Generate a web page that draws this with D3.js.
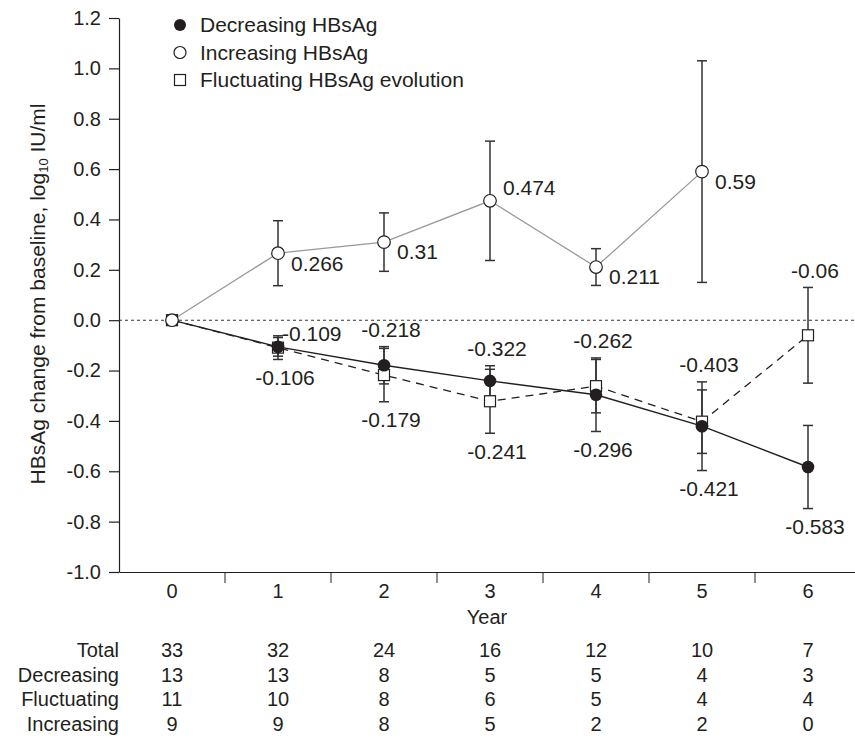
<!DOCTYPE html>
<html>
<head>
<meta charset="utf-8">
<script src="https://cdn.jsdelivr.net/npm/d3@7"></script>
<style>
  body { margin: 0; background: #fff; }
  svg text { font-family: "Liberation Sans", Arial, Helvetica, sans-serif; fill: #231f20; }
</style>
</head>
<body>
<svg id="chart" width="855" height="740"></svg>
<script>
// Datos
const years = [0, 1, 2, 3, 4, 5, 6];
const yTicks = [-1.0, -0.8, -0.6, -0.4, -0.2, 0.0, 0.2, 0.4, 0.6, 0.8, 1.0, 1.2];

const decMean = [0, -0.106, -0.179, -0.241, -0.296, -0.421, -0.583];
const decErr = [0, 0.037, 0.074, 0.06, 0.146, 0.176, 0.165];

const fluctMean = [0, -0.109, -0.218, -0.322, -0.262, -0.403, -0.06];
const fluctErr = [0, 0.047, 0.106, 0.127, 0.106, 0.126, 0.19];

const incMean = [0, 0.266, 0.31, 0.474, 0.211, 0.59, null];
const incErr = [0, 0.129, 0.116, 0.237, 0.073, 0.44, null];

const tableRows = ['Total', 'Decreasing', 'Fluctuating', 'Increasing'];
const nTotal = [33, 32, 24, 16, 12, 10, 7];
const nDec = [13, 13, 8, 5, 5, 4, 3];
const nFluct = [11, 10, 8, 6, 5, 4, 4];
const nInc = [9, 9, 8, 5, 2, 2, 0];

const legendLabels = ['Decreasing HBsAg', 'Increasing HBsAg', 'Fluctuating HBsAg evolution'];

const svg = d3.select('#chart');

// Escalas
const x = d3.scaleBand().domain(years).range([119, 861]).paddingInner(0).paddingOuter(0);
const y = d3.scaleLinear().domain([-1, 1.2]).range([572, 18]);
const cx = d => x(d) + x.bandwidth() / 2;

// Ejes
const yAxis = svg.append('g')
    .attr('transform', 'translate(119,0)')
    .call(d3.axisLeft(y).tickValues(yTicks).tickSize(10).tickSizeOuter(0).tickPadding(8)
        .tickFormat(d => (Math.abs(d) < 1e-9 ? 0 : d).toFixed(1)));
yAxis.selectAll('text').style('font-size', '20px');

const xAxis = svg.append('g')
    .attr('transform', 'translate(0,572)')
    .call(d3.axisBottom(x).tickSize(0).tickSizeOuter(0).tickPadding(12));
xAxis.selectAll('text').style('font-size', '20px');

// marcas entre categorías
svg.append('g').selectAll('line')
    .data(years.slice(1))
    .enter().append('line')
    .attr('x1', d => x(d)).attr('x2', d => x(d))
    .attr('y1', 572).attr('y2', 583)
    .attr('stroke', '#231f20');

[yAxis, xAxis].forEach(a => a.selectAll('path, line').attr('stroke', '#231f20').attr('stroke-width', 1.2));

svg.append('text')
    .attr('x', 487).attr('y', 624)
    .attr('text-anchor', 'middle')
    .style('font-size', '20px')
    .text('Year');

// Título del eje Y
const yTitle = svg.append('text')
    .attr('transform', 'translate(45,294) rotate(-90)')
    .attr('text-anchor', 'middle')
    .style('font-size', '21px');
yTitle.append('tspan').text('HBsAg change from baseline, log');
yTitle.append('tspan').attr('baseline-shift', '-25%').style('font-size', '13px').text('10');
yTitle.append('tspan').text(' IU/ml');

// Línea de cero
svg.append('line')
    .attr('x1', 119).attr('x2', 855)
    .attr('y1', y(0)).attr('y2', y(0))
    .attr('stroke', '#333').attr('stroke-width', 1.1)
    .attr('stroke-dasharray', '3,3');

function series(mean, err) {
    return years.map((yr, i) => ({ yr, v: mean[i], e: err[i] })).filter(d => d.v !== null);
}
const dec = series(decMean, decErr);
const fluct = series(fluctMean, fluctErr);
const inc = series(incMean, incErr);

const line = d3.line().x(d => cx(d.yr)).y(d => y(d.v));

svg.append('path').datum(inc).attr('d', line)
    .attr('fill', 'none').attr('stroke', '#999').attr('stroke-width', 1.3);
svg.append('path').datum(fluct).attr('d', line)
    .attr('fill', 'none').attr('stroke', '#231f20').attr('stroke-width', 1.3).attr('stroke-dasharray', '8,6');
svg.append('path').datum(dec).attr('d', line)
    .attr('fill', 'none').attr('stroke', '#231f20').attr('stroke-width', 1.4);

// Barras de error
function errorBars(data) {
    const g = svg.append('g').attr('stroke', '#333').attr('stroke-width', 1.5);
    data.filter(d => d.e > 0).forEach(d => {
        const px = cx(d.yr);
        g.append('line').attr('x1', px).attr('x2', px).attr('y1', y(d.v + d.e)).attr('y2', y(d.v - d.e));
        g.append('line').attr('x1', px - 5).attr('x2', px + 5).attr('y1', y(d.v + d.e)).attr('y2', y(d.v + d.e));
        g.append('line').attr('x1', px - 5).attr('x2', px + 5).attr('y1', y(d.v - d.e)).attr('y2', y(d.v - d.e));
    });
}
errorBars(fluct);
errorBars(dec);
errorBars(inc);

// Marcadores
svg.append('g').selectAll('rect').data(fluct).enter().append('rect')
    .attr('x', d => cx(d.yr) - 5.5).attr('y', d => y(d.v) - 5.5)
    .attr('width', 11).attr('height', 11)
    .attr('fill', '#fff').attr('stroke', '#231f20').attr('stroke-width', 1.2);
svg.append('g').selectAll('circle').data(dec).enter().append('circle')
    .attr('cx', d => cx(d.yr)).attr('cy', d => y(d.v)).attr('r', 6.3)
    .attr('fill', '#231f20');
svg.append('g').selectAll('circle').data(inc).enter().append('circle')
    .attr('cx', d => cx(d.yr)).attr('cy', d => y(d.v)).attr('r', 6.3)
    .attr('fill', '#fff').attr('stroke', '#231f20').attr('stroke-width', 1.2);

// Etiquetas de valores
const labels = svg.append('g').style('font-size', '21px');
inc.filter(d => d.yr > 0).forEach((d, i, arr) => {
    const next = arr[i + 1];
    const dy = next && next.v < d.v ? -13 : 10;
    labels.append('text')
        .attr('x', cx(d.yr) + 13).attr('y', y(d.v) + dy).attr('dy', '0.35em')
        .text(String(d.v));
});
// decreciente (abajo) y fluctuante (arriba) comparten la columna del año
years.slice(1).forEach((yr, i) => {
    const dd = dec[i + 1], ff = fluct[i + 1];
    const bottom = Math.max(y(dd.v - dd.e), y(ff.v - ff.e));
    const top = Math.min(y(dd.v + dd.e), y(ff.v + ff.e));
    labels.append('text')
        .attr('x', cx(yr) + 7).attr('y', bottom + 18).attr('dy', '0.35em')
        .attr('text-anchor', 'middle')
        .text(String(dd.v));
    const t = labels.append('text').attr('dy', '0.35em').text(String(ff.v));
    if (top - 22 < y(0) && top > y(0)) {
        // sin espacio encima: a la derecha
        t.attr('x', cx(yr) + 4).attr('y', top - 2);
    } else {
        t.attr('x', cx(yr) + 7).attr('y', top - 17).attr('text-anchor', 'middle');
    }
});

// Leyenda
const legend = svg.append('g').style('font-size', '21px');
legendLabels.forEach((lab, i) => {
    const ly = 25 + i * 27.5;
    if (i === 0) legend.append('circle').attr('cx', 180).attr('cy', ly).attr('r', 6).attr('fill', '#231f20');
    if (i === 1) legend.append('circle').attr('cx', 180).attr('cy', ly).attr('r', 6).attr('fill', '#fff').attr('stroke', '#231f20').attr('stroke-width', 1.2);
    if (i === 2) legend.append('rect').attr('x', 174.5).attr('y', ly - 5.5).attr('width', 11).attr('height', 11).attr('fill', '#fff').attr('stroke', '#231f20').attr('stroke-width', 1.2);
    legend.append('text').attr('x', 200).attr('y', ly).attr('dy', '0.35em').text(lab);
});

// Tabla de números en riesgo
const tableVals = [nTotal, nDec, nFluct, nInc];
const table = svg.append('g').style('font-size', '20px');
tableRows.forEach((row, r) => {
    const ty = 650 + r * 24.7;
    table.append('text').attr('x', 119).attr('y', ty).attr('dy', '0.35em')
        .attr('text-anchor', 'end').text(row);
    tableVals[r].forEach((n, i) => {
        table.append('text').attr('x', cx(years[i])).attr('y', ty).attr('dy', '0.35em')
            .attr('text-anchor', 'middle').text(n);
    });
});
</script>
</body>
</html>
